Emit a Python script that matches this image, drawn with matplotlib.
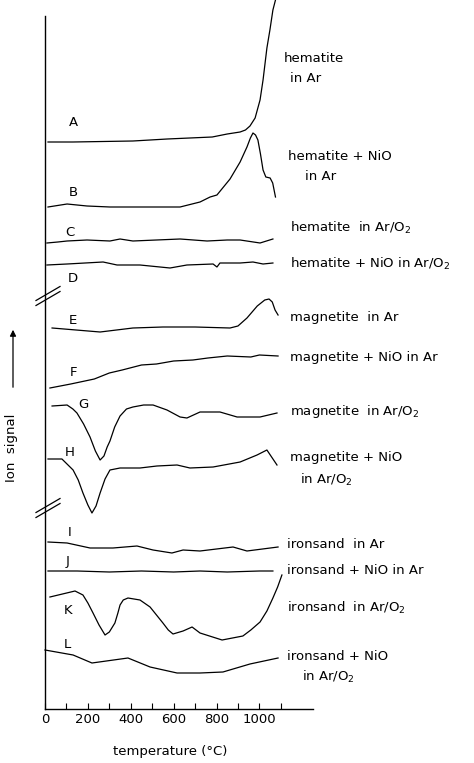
import matplotlib
matplotlib.use("Agg")
import matplotlib.pyplot as plt

# Ion signal curves (arbitrary units, offset per curve) vs temperature in °C
temp_A = [14, 130, 410, 570, 780, 850, 910, 935, 956, 980, 1003, 1017, 1035, 1049, 1063, 1075]
sig_A = [567, 567, 568, 570, 572, 575, 577, 579, 583, 591, 609, 629, 661, 679, 699, 709]

temp_B = [14, 103, 196, 303, 630, 723, 770, 802, 863, 910, 942, 958, 970, 982, 993, 1005, 1017,
          1030, 1050, 1062, 1075]
sig_B = [502, 505, 503, 502, 502, 507, 512, 514, 530, 547, 562, 571, 576, 574, 569, 555, 539,
         532, 531, 526, 512]

temp_C = [9, 60, 103, 196, 303, 350, 410, 520, 630, 756, 850, 910, 1003, 1063]
sig_C = [466, 467, 468, 469, 468, 470, 468, 469, 470, 468, 469, 469, 466, 470]

temp_D = [9, 103, 271, 336, 443, 583, 662, 784, 802, 816, 910, 970, 1017, 1063]
sig_D = [444, 445, 447, 444, 444, 441, 444, 445, 442, 446, 446, 447, 445, 446]

temp_E = [33, 257, 410, 550, 700, 863, 900, 942, 990, 1025, 1045, 1060, 1073, 1087]
sig_E = [381, 377, 381, 382, 382, 381, 383, 391, 403, 409, 410, 407, 399, 394]

temp_F = [23, 120, 230, 300, 360, 450, 520, 600, 690, 760, 850, 960, 1000, 1087]
sig_F = [321, 325, 330, 336, 339, 344, 345, 348, 349, 351, 353, 352, 354, 353]

temp_G = [33, 103, 130, 149, 180, 210, 235, 257, 275, 290, 303, 325, 350, 380, 410, 460, 504,
          569, 630, 662, 723, 816, 896, 1003, 1082]
sig_G = [303, 304, 300, 296, 285, 272, 258, 249, 253, 262, 268, 282, 293, 300, 302, 304, 304,
         299, 292, 291, 297, 297, 292, 292, 296]

temp_H = [14, 79, 131, 155, 177, 200, 219, 238, 257, 280, 303, 350, 443, 522, 616, 676, 784,
          910, 989, 1035, 1082]
sig_H = [250, 250, 239, 229, 216, 204, 196, 203, 216, 230, 239, 241, 241, 243, 244, 241, 242,
         247, 254, 259, 244]

temp_I = [14, 103, 210, 317, 429, 504, 592, 644, 723, 877, 942, 1087]
sig_I = [167, 166, 161, 161, 163, 159, 156, 159, 158, 162, 158, 162]

temp_J = [14, 150, 300, 450, 600, 723, 850, 1000, 1063]
sig_J = [138, 138, 137, 138, 137, 138, 137, 138, 138]

temp_K = [23, 140, 177, 200, 224, 252, 280, 300, 326, 340, 350, 365, 387, 443, 490, 520, 550,
          575, 597, 644, 686, 723, 826, 923, 960, 1003, 1035, 1063, 1085, 1105]
sig_K = [112, 118, 114, 106, 96, 84, 74, 77, 86, 96, 104, 109, 111, 109, 102, 94, 86,
         79, 75, 78, 82, 76, 69, 73, 79, 87, 98, 111, 122, 134]

temp_L = [0, 131, 219, 387, 490, 616, 723, 830, 956, 1087]
sig_L = [59, 54, 46, 51, 42, 36, 36, 37, 45, 51]

letras = ["A", "B", "C", "D", "E", "F", "G", "H", "I", "J", "K", "L"]
temps = [temp_A, temp_B, temp_C, temp_D, temp_E, temp_F, temp_G, temp_H, temp_I, temp_J, temp_K, temp_L]
senales = [sig_A, sig_B, sig_C, sig_D, sig_E, sig_F, sig_G, sig_H, sig_I, sig_J, sig_K, sig_L]

# sample descriptions, one or two lines each
descripciones = [
    ["hematite", "in Ar"],
    ["hematite + NiO", "in Ar"],
    ["hematite  in Ar/O$_2$"],
    ["hematite + NiO in Ar/O$_2$"],
    ["magnetite  in Ar"],
    ["magnetite + NiO in Ar"],
    ["magnetite  in Ar/O$_2$"],
    ["magnetite + NiO", "in Ar/O$_2$"],
    ["ironsand  in Ar"],
    ["ironsand + NiO in Ar"],
    ["ironsand  in Ar/O$_2$"],
    ["ironsand + NiO", "in Ar/O$_2$"],
]

# where letters and descriptions are written (temperature, signal)
pos_letras = [(131, 586), (131, 517), (117, 477), (131, 430), (131, 389), (131, 337),
              (177, 304), (117, 256), (117, 176), (107, 147), (107, 99), (103, 64)]
pos_textos = [[(1115, 651), (1143, 630)], [(1133, 552), (1213, 532)], [(1143, 481)],
              [(1143, 445)], [(1143, 391)], [(1143, 351)], [(1143, 297)],
              [(1143, 251), (1189, 229)], [(1129, 164)], [(1129, 139)], [(1129, 101)],
              [(1129, 52), (1199, 32)]]

fig = plt.figure(figsize=(4.74, 7.63), dpi=100)
ax = fig.add_axes([45 / 474, 54 / 763, 268 / 474, 706 / 763])

for letra, t, s, pl, desc, pt in zip(letras, temps, senales, pos_letras, descripciones, pos_textos):
    ax.plot(t, s, color="black", lw=0.9, clip_on=False)
    ax.text(pl[0], pl[1], letra, fontsize=9.5, ha="center", va="center")
    for linea, (x, y) in zip(desc, pt):
        ax.text(x, y, linea, fontsize=9.5, ha="left", va="center", clip_on=False)

ax.set_xlim(0, 1250)
ax.set_ylim(0, 706)

# axis styling: only bottom and left spines
ax.spines["top"].set_visible(False)
ax.spines["right"].set_visible(False)
ax.spines["left"].set_bounds(0, 693)
ax.spines["left"].set_linewidth(1.0)
ax.spines["bottom"].set_linewidth(1.0)
ax.set_yticks([])

ax.set_xticks(range(0, 1001, 200))
ax.set_xticklabels([str(v) for v in range(0, 1001, 200)])
ax.set_xticks(range(100, 1101, 200), minor=True)
ax.tick_params(axis="x", which="both", direction="in", length=4, width=0.8,
               labelsize=9.5, pad=3)

# axis breaks on the signal axis
for yb in [413, 201]:
    for dy in [-2.5, 2.5]:
        ax.plot([-42, 70], [yb - 7 + dy, yb + 7 + dy], color="black", lw=0.9, clip_on=False)

fig.text(170 / 474, 1 - 752 / 763, "temperature (°C)", ha="center", va="center", fontsize=9.5)
fig.text(12 / 474, 1 - 448 / 763, "Ion  signal", rotation=90, ha="center", va="center",
         fontsize=9.5)
ax.annotate("", xy=(13 / 474, 1 - 327 / 763), xytext=(13 / 474, 1 - 390 / 763),
            xycoords="figure fraction", textcoords="figure fraction",
            arrowprops=dict(arrowstyle="-|>", color="black", lw=0.9, mutation_scale=9))

fig.savefig("out.png", dpi=100)
